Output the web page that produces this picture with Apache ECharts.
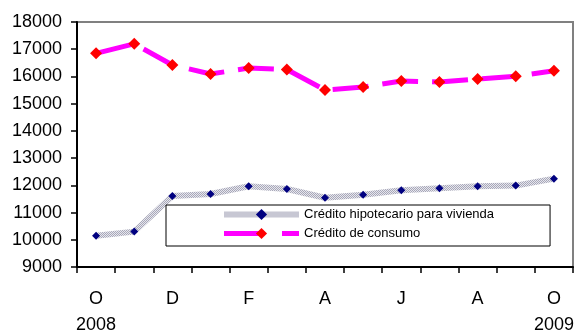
<!DOCTYPE html>
<html>
<head>
<meta charset="utf-8">
<script src="https://cdn.jsdelivr.net/npm/echarts@6/dist/echarts.min.js"></script>
<style>html,body{margin:0;padding:0;background:#fff}#c{width:574px;height:332px}</style>
</head>
<body>
<div id="c"></div>
<script>
const months = ['O','N','D','E','F','M','A','M','J','J','A','S','O'];
const yearLabels = ['2008','','','','','','','','','','','','2009'];
const hipotecario = [10150, 10300, 11610, 11680, 11965, 11865, 11545, 11655, 11820, 11890, 11965, 11990, 12245];
const consumo = [16850, 17200, 16420, 16090, 16310, 16255, 15500, 15610, 15830, 15795, 15905, 16005, 16210];
const yTicks = {min: 9000, max: 18000, interval: 1000};
const seriesNames = ['Crédito hipotecario para vivienda', 'Crédito de consumo'];

// hatched texture for the mortgage line
const pc = document.createElement('canvas');
pc.width = 2; pc.height = 2;
const px = pc.getContext('2d');
px.fillStyle = '#e6e6ee'; px.fillRect(0, 0, 2, 2);
px.fillStyle = '#a8a8b8'; px.fillRect(0, 0, 1, 1); px.fillRect(1, 1, 1, 1);
const hatch = {image: pc, repeat: 'repeat'};

const chart = echarts.init(document.getElementById('c'), null, {renderer: 'canvas'});
const font = 'Liberation Sans, Arial, sans-serif';
chart.setOption({
  animation: false,
  backgroundColor: '#fff',
  grid: {left: 77, right: 1, top: 22, bottom: 65, show: true, borderColor: '#808080', borderWidth: 2,
         containLabel: false, outerBoundsMode: 'none'},
  legend: {
    orient: 'vertical', left: 166, top: 205,
    padding: [3, 56, 6, 55], itemGap: 6,
    itemWidth: 75, itemHeight: 14,
    backgroundColor: '#fff', borderColor: '#000', borderWidth: 1,
    textStyle: {fontFamily: font, fontSize: 13, color: '#000'},
    data: [
      {name: seriesNames[0], lineStyle: {color: hatch, width: 6}},
      {name: seriesNames[1], lineStyle: {type: [40, 18], width: 5, color: '#ff00ff'}}
    ]
  },
  xAxis: {
    type: 'category', data: months, boundaryGap: true,
    axisLine: {lineStyle: {color: '#000', width: 2}},
    axisTick: {show: true, interval: 0, length: 6, lineStyle: {color: '#000', width: 1.5}},
    axisLabel: {
      interval: 1, margin: 19, color: '#000', fontFamily: font, fontSize: 18, lineHeight: 26,
      formatter: (v, i) => yearLabels[i] ? v + '\n' + yearLabels[i] : v
    },
    splitLine: {show: false}
  },
  yAxis: {
    type: 'value', min: yTicks.min, max: yTicks.max, interval: yTicks.interval,
    axisLine: {show: true, lineStyle: {color: '#000', width: 2}},
    axisTick: {show: true, length: 6, lineStyle: {color: '#000', width: 1.5}},
    axisLabel: {margin: 15, color: '#000', fontFamily: font, fontSize: 18, formatter: v => String(v)},
    splitLine: {show: false}
  },
  series: [
    {
      name: seriesNames[0], type: 'line', data: hipotecario,
      symbol: 'diamond', symbolSize: 8,
      itemStyle: {color: '#000080'},
      lineStyle: {color: hatch, width: 6}
    },
    {
      name: seriesNames[1], type: 'line', data: consumo,
      symbol: 'diamond', symbolSize: 12,
      itemStyle: {color: '#ff0000'},
      lineStyle: {color: '#ff00ff', width: 5, type: [36, 14]}
    }
  ]
});
</script>
</body>
</html>
